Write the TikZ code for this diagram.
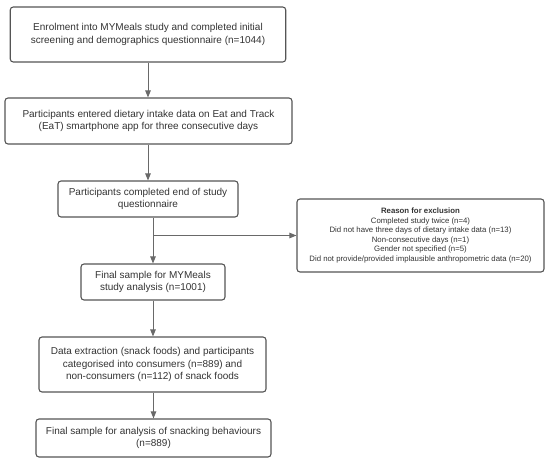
\documentclass[tikz,border=0pt]{standalone}
\usepackage{fontspec}
\setmainfont{Liberation Sans}
\usetikzlibrary{arrows.meta}
\definecolor{rahmen}{RGB}{85,85,85}
\definecolor{pfeil}{RGB}{105,105,105}
\definecolor{schrift}{RGB}{51,51,51}

\begin{document}
\begin{tikzpicture}[x=1pt, y=-1pt,
    stufe/.style={draw=rahmen, line width=1.1pt, rounded corners=3pt, align=center, text=schrift,
        inner sep=0pt, font=\fontsize{10}{12.5}\selectfont},
    ausschluss/.style={stufe, font=\fontsize{7.8}{9.5}\selectfont},
    pfeilspitze/.style={pfeil, line width=0.9pt, -{Triangle[length=7pt,width=5.5pt]}}]

    \useasboundingbox (0,0) rectangle (550,463);

    \node[stufe, minimum width=275.5pt, minimum height=55pt] (enrol) at (148,34.5)
        {Enrolment into MYMeals study and completed initial\\screening and demographics questionnaire (n=1044)};
    \node[stufe, minimum width=287pt, minimum height=46pt] (entered) at (148.5,121)
        {Participants entered dietary intake data on Eat and Track\\(EaT) smartphone app for three consecutive days};
    \node[stufe, minimum width=180pt, minimum height=36pt] (completed) at (148,199)
        {Participants completed end of study\\questionnaire};
    \node[stufe, minimum width=144pt, minimum height=36pt] (final) at (153,282)
        {Final sample for MYMeals\\study analysis (n=1001)};
    \node[ausschluss, minimum width=247pt, minimum height=73pt] (reason) at (420.5,235.5)
        {\textbf{Reason for exclusion}\\Completed study twice (n=4)\\Did not have three days of dietary intake data (n=13)\\
         Non-consecutive days (n=1)\\Gender not specified (n=5)\\Did not provide/provided implausible anthropometric data (n=20)};
    \node[stufe, minimum width=227pt, minimum height=55pt] (extract) at (152.5,364.5)
        {Data extraction (snack foods) and participants\\categorised into consumers (n=889) and\\non-consumers (n=112) of snack foods};
    \node[stufe, minimum width=235pt, minimum height=38pt] (sample) at (153.5,438)
        {Final sample for analysis of snacking behaviours\\(n=889)};

    \coordinate (abzweig) at (final.north |- reason.west);

    \draw[pfeilspitze] (enrol.south) -- (enrol.south |- entered.north);
    \draw[pfeilspitze] (completed.north |- entered.south) -- (completed.north);
    \draw[pfeilspitze] (final.north |- completed.south) -- (final.north);
    \draw[pfeilspitze] (abzweig) -- (reason.west);
    \draw[pfeilspitze] (final.south) -- (extract.north -| final.south);
    \draw[pfeilspitze] (sample.north |- extract.south) -- (sample.north);

\end{tikzpicture}
\end{document}
